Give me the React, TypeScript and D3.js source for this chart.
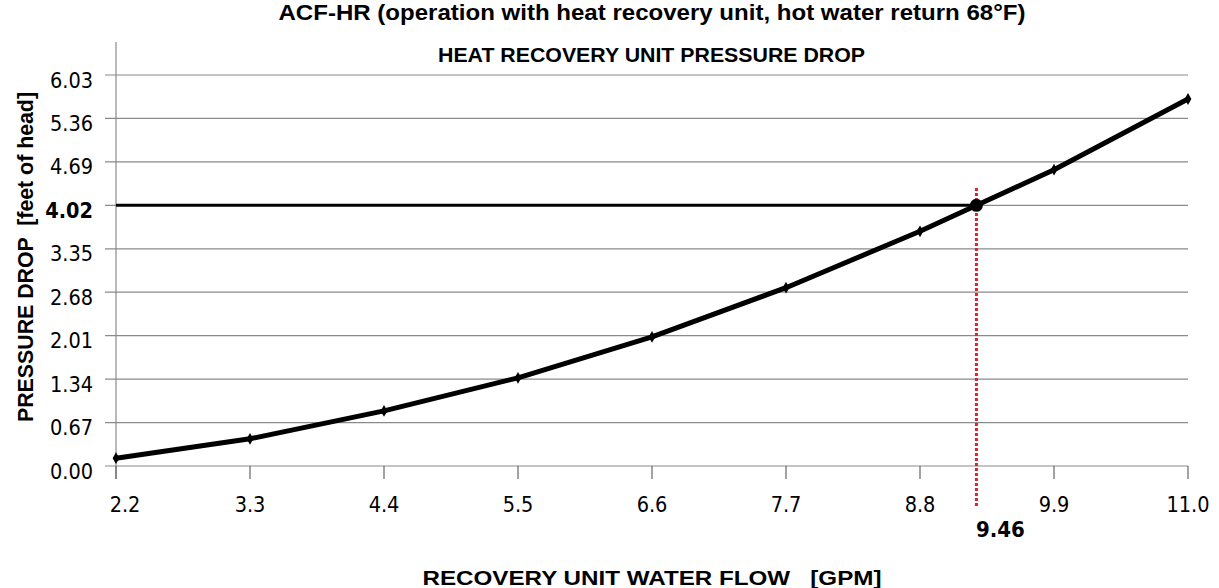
import React from "react";
import * as d3 from "d3";

const flows = [2.2, 3.3, 4.4, 5.5, 6.6, 7.7, 8.8, 9.9, 11.0];
const pressureDrop = [0.12, 0.42, 0.85, 1.36, 1.99, 2.75, 3.62, 4.57, 5.66];
const yTicks = [0, 0.67, 1.34, 2.01, 2.68, 3.35, 4.02, 4.69, 5.36, 6.03];
const xTickLabels = ["2.2", "3.3", "4.4", "5.5", "6.6", "7.7", "8.8", "9.9", "11.0"];
const operatingHead = 4.02;
const operatingFlow = 9.46;
const operatingFlowLabel = "9.46";

const title = "ACF-HR (operation with heat recovery unit, hot water return 68°F)";
const subtitle = "HEAT RECOVERY UNIT PRESSURE DROP";
const xTitle = "RECOVERY UNIT WATER FLOW   [GPM]";
const yTitle = "PRESSURE DROP  [feet of head]";

export default function App() {
  const W = 1219, H = 588;
  const x = d3.scaleLinear().domain([2.2, 11.0]).range([116, 1188]);
  const y = d3.scaleLinear().domain([0, 6.03]).range([466, 75]);

  const pts = flows.map((f, i) => [f, pressureDrop[i]] as [number, number]);
  const line = d3.line<[number, number]>().x(d => x(d[0])).y(d => y(d[1]));

  // where the curve crosses the operating head
  let crossX = flows[0];
  for (let i = 0; i < pts.length - 1; i++) {
    const [x0, y0] = pts[i], [x1, y1] = pts[i + 1];
    if (y0 <= operatingHead && y1 >= operatingHead) {
      crossX = x0 + ((operatingHead - y0) / (y1 - y0)) * (x1 - x0);
      break;
    }
  }
  const cx = x(crossX), cy = y(operatingHead);
  const diamond = d3.symbol().type(d3.symbolDiamond).size(40)();
  const sans = "'Liberation Sans', Arial, sans-serif";
  const tickFont = "'DejaVu Sans Condensed', 'DejaVu Sans', Verdana, sans-serif";

  return (
    <svg width={W} height={H} style={{ position: "absolute", left: 0, top: 0, background: "#fff" }}>
      <rect width={W} height={H} fill="#fff" />
      <text x={652} y={20} textAnchor="middle" fontFamily={sans} fontWeight="bold" fontSize={22}
        textLength={747} lengthAdjust="spacingAndGlyphs">{title}</text>
      <text x={651.5} y={62} textAnchor="middle" fontFamily={sans} fontWeight="bold" fontSize={21}
        textLength={427} lengthAdjust="spacingAndGlyphs">{subtitle}</text>

      {/* gridlines */}
      {yTicks.map(t => (
        <line key={"g" + t} x1={105} x2={1188} y1={y(t)} y2={y(t)} stroke="#8a8a8a" strokeWidth={1.2} />
      ))}
      {/* y axis */}
      <line x1={116} x2={116} y1={42} y2={479} stroke="#8a8a8a" strokeWidth={1.2} />
      {/* x ticks */}
      {flows.map(f => (
        <line key={"xt" + f} x1={x(f)} x2={x(f)} y1={466} y2={479} stroke="#666" strokeWidth={1.2} />
      ))}

      {/* y tick labels */}
      {yTicks.map(t => (
        <text key={"yl" + t} x={93} y={y(t) + 12.5} textAnchor="end" fontFamily={tickFont} fontSize={21.5}
          fontWeight={t === operatingHead ? "bold" : "normal"}>{t.toFixed(2)}</text>
      ))}
      {/* x tick labels */}
      {flows.map((f, i) => (
        <text key={"xl" + f} x={x(f) + (i === 0 ? 9 : 0)} y={512} textAnchor="middle" fontFamily={tickFont} fontSize={21.5}>
          {xTickLabels[i]}
        </text>
      ))}

      {/* operating lines */}
      <line x1={116} x2={cx} y1={cy} y2={cy} stroke="#000" strokeWidth={3} />
      <line x1={cx} x2={cx} y1={188} y2={507} stroke="#e0202a" strokeWidth={3} strokeDasharray="3,2" />

      {/* curve */}
      <path d={line(pts) || ""} fill="none" stroke="#000" strokeWidth={5} strokeLinejoin="round" />
      {pts.map(p => (
        <path key={"m" + p[0]} d={diamond || ""} transform={`translate(${x(p[0])},${y(p[1])})`} fill="#000" />
      ))}
      <circle cx={cx} cy={cy} r={6.5} fill="#000" />

      <text x={x(operatingFlow)} y={537} textAnchor="middle" fontFamily={tickFont} fontWeight="bold" fontSize={22}>
        {operatingFlowLabel}
      </text>

      <text x={652} y={585} textAnchor="middle" fontFamily={sans} fontWeight="bold" fontSize={20}
        textLength={459} lengthAdjust="spacingAndGlyphs" style={{ whiteSpace: "pre" }}>{xTitle}</text>
      <text transform="translate(33,257) rotate(-90)" textAnchor="middle" fontFamily={sans} fontWeight="bold" fontSize={22}
        textLength={330} lengthAdjust="spacingAndGlyphs" style={{ whiteSpace: "pre" }}>{yTitle}</text>
    </svg>
  );
}
